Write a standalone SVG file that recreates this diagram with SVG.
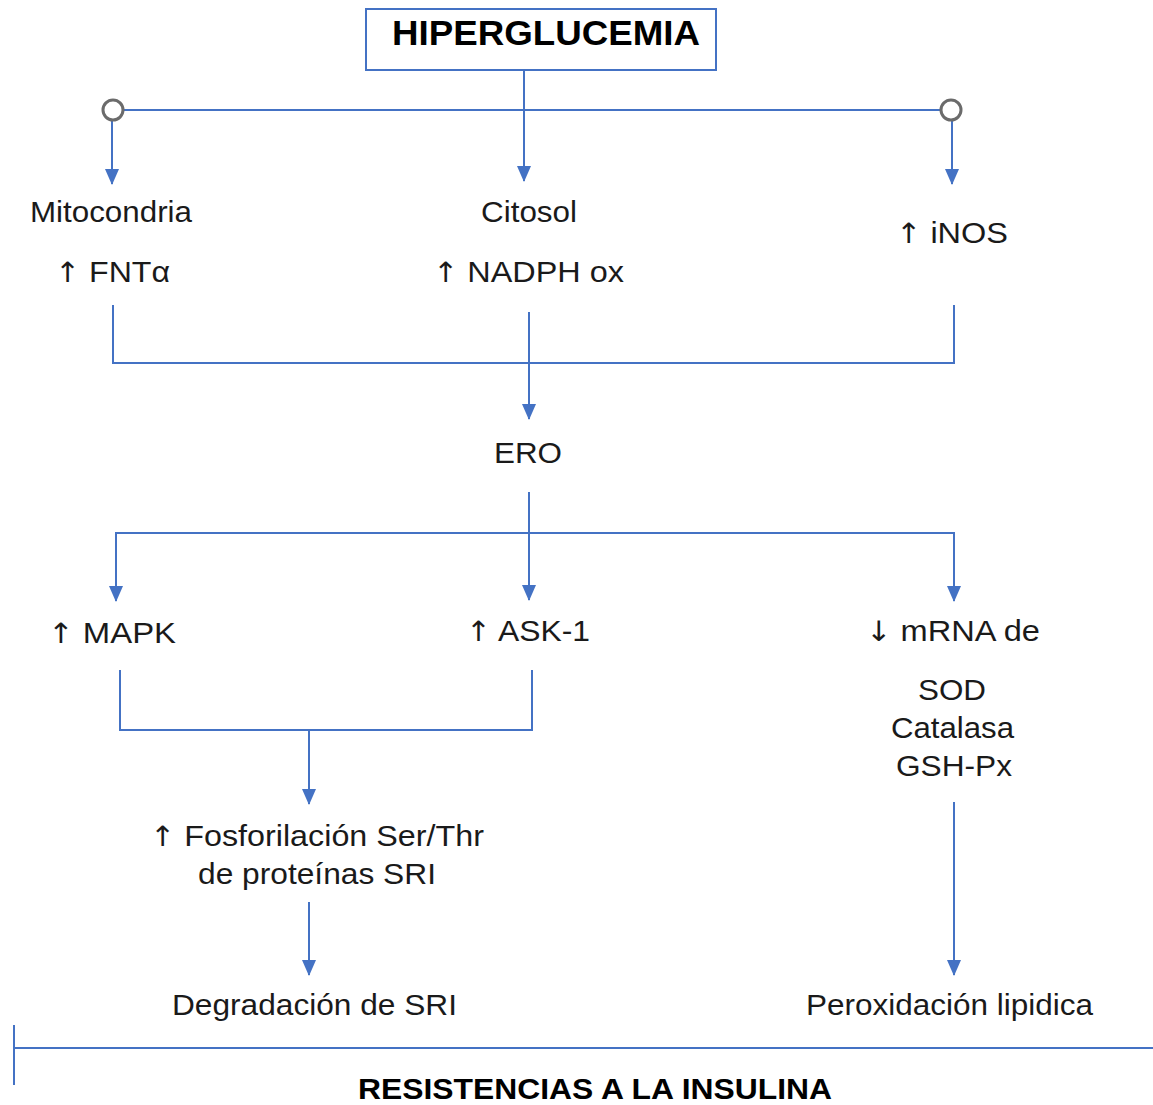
<svg xmlns="http://www.w3.org/2000/svg" width="1153" height="1105" viewBox="0 0 1153 1105">
<style>
.c{fill:none;stroke:#4472C4;stroke-width:2}
.t{font-family:"Liberation Sans",Arial,sans-serif;font-size:30px;fill:#1a1a1a}
.a{font-family:"DejaVu Sans",sans-serif;font-size:28px}
.b{font-family:"Liberation Sans",Arial,sans-serif;font-weight:bold;fill:#000}
.o{fill:#fff;stroke:#6b6b6b;stroke-width:3}
</style>
<defs>
<marker id="ah" markerUnits="userSpaceOnUse" markerWidth="16" markerHeight="14" viewBox="0 0 16 14" refX="15" refY="7" orient="auto">
<path d="M0,0 L16,7 L0,14 Z" fill="#4472C4"/>
</marker>
</defs>
<rect width="1153" height="1105" fill="#fff"/>
<g id="connectors">
<path class="c" d="M524,70 V181" marker-end="url(#ah)"/>
<path class="c" d="M123,110 H941"/>
<path class="c" d="M112,120 V184" marker-end="url(#ah)"/>
<path class="c" d="M952,120 V184" marker-end="url(#ah)"/>
<path class="c" d="M113,305 V363 H954 V305"/>
<path class="c" d="M529,312 V419" marker-end="url(#ah)"/>
<path class="c" d="M529,492 V600" marker-end="url(#ah)"/>
<path class="c" d="M116,600 V533 H954 V600"/>
<path class="c" d="M116,560 V601" marker-end="url(#ah)"/>
<path class="c" d="M954,560 V601" marker-end="url(#ah)"/>
<path class="c" d="M120,670 V730 H532 V670"/>
<path class="c" d="M309,730 V804" marker-end="url(#ah)"/>
<path class="c" d="M309,902 V975" marker-end="url(#ah)"/>
<path class="c" d="M954,802 V975" marker-end="url(#ah)"/>
<path class="c" d="M14,1025 V1085 M14,1048 H1153"/>
</g>
<g id="n-hiperglucemia">
<rect x="366" y="9" width="350" height="61" fill="#fff" stroke="#4472C4" stroke-width="2"/>
<text class="b" x="392" y="45" font-size="35" textLength="308" lengthAdjust="spacingAndGlyphs">HIPERGLUCEMIA</text>
</g>
<g id="n-splits">
<circle class="o" cx="113" cy="110" r="10"/>
<circle class="o" cx="951" cy="110" r="10"/>
</g>
<g id="n-mitocondria">
<text class="t" x="30" y="222" textLength="162" lengthAdjust="spacingAndGlyphs">Mitocondria</text>
<text class="t" x="55" y="282" textLength="115" lengthAdjust="spacingAndGlyphs"><tspan class="a">↑</tspan> FNTα</text>
</g>
<g id="n-citosol">
<text class="t" x="481" y="222" textLength="96" lengthAdjust="spacingAndGlyphs">Citosol</text>
<text class="t" x="433" y="282" textLength="191" lengthAdjust="spacingAndGlyphs"><tspan class="a">↑</tspan> NADPH ox</text>
</g>
<g id="n-inos">
<text class="t" x="896" y="243" textLength="112" lengthAdjust="spacingAndGlyphs"><tspan class="a">↑</tspan> iNOS</text>
</g>
<g id="n-ero">
<text class="t" x="494" y="463" textLength="68" lengthAdjust="spacingAndGlyphs">ERO</text>
</g>
<g id="n-mapk">
<text class="t" x="48" y="643" textLength="128" lengthAdjust="spacingAndGlyphs"><tspan class="a">↑</tspan> MAPK</text>
</g>
<g id="n-ask1">
<text class="t" x="466" y="641" textLength="124" lengthAdjust="spacingAndGlyphs"><tspan class="a">↑</tspan> ASK-1</text>
</g>
<g id="n-mrna">
<text class="t" x="866" y="641" textLength="174" lengthAdjust="spacingAndGlyphs"><tspan class="a">↓</tspan> mRNA de</text>
<text class="t" x="918" y="700" textLength="68" lengthAdjust="spacingAndGlyphs">SOD</text>
<text class="t" x="891" y="738" textLength="123" lengthAdjust="spacingAndGlyphs">Catalasa</text>
<text class="t" x="896" y="776" textLength="116" lengthAdjust="spacingAndGlyphs">GSH-Px</text>
</g>
<g id="n-fosforilacion">
<text class="t" x="150" y="846" textLength="334" lengthAdjust="spacingAndGlyphs"><tspan class="a">↑</tspan> Fosforilación Ser/Thr</text>
<text class="t" x="198" y="884" textLength="238" lengthAdjust="spacingAndGlyphs">de proteínas SRI</text>
</g>
<g id="n-degradacion">
<text class="t" x="172" y="1015" textLength="285" lengthAdjust="spacingAndGlyphs">Degradación de SRI</text>
</g>
<g id="n-peroxidacion">
<text class="t" x="806" y="1015" textLength="287" lengthAdjust="spacingAndGlyphs">Peroxidación lipidica</text>
</g>
<g id="n-resistencia">
<text class="b" x="358" y="1099" font-size="29" textLength="474" lengthAdjust="spacingAndGlyphs">RESISTENCIAS A LA INSULINA</text>
</g>
</svg>
